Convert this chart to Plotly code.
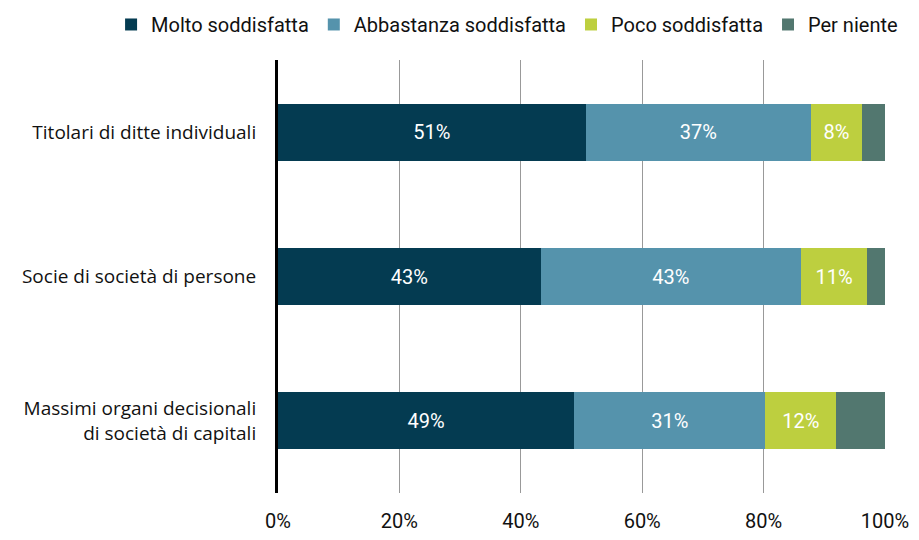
import plotly.graph_objects as go

categories = ["Titolari di ditte individuali", "Socie di società di persone",
              "Massimi organi decisionali<br>di società di capitali"]
series_names = ["Molto soddisfatta", "Abbastanza soddisfatta", "Poco soddisfatta", "Per niente"]
molto = [50.7, 43.3, 48.8]
abbastanza = [37.1, 42.8, 31.5]
poco = [8.4, 11.0, 11.7]
per_niente = [3.8, 2.9, 8.0]
labels_molto = ["51%", "43%", "49%"]
labels_abbastanza = ["37%", "43%", "31%"]
labels_poco = ["8%", "11%", "12%"]
colors = ["#043b51", "#5593ac", "#bdcf3f", "#52776f"]

narrow = "Roboto"
regular = "Open Sans, Noto Sans, sans-serif"

fig = go.Figure()
values = [molto, abbastanza, poco, per_niente]
texts = [labels_molto, labels_abbastanza, labels_poco, None]
for name, vals, col, txt in zip(series_names, values, colors, texts):
    fig.add_trace(go.Bar(
        y=categories, x=vals, name=name, orientation="h",
        marker=dict(color=col, line=dict(width=0)),
        text=txt, textposition="inside" if txt else "none",
        insidetextanchor="middle",
        textfont=dict(color="white", size=20, family=narrow),
        hoverinfo="x+name",
    ))

# the page places the figure 8px in from the top-left corner; margins compensate
fig.update_layout(
    barmode="stack", bargap=0.605,
    width=919, height=540,
    margin=dict(l=270, r=42, t=52, b=55, autoexpand=False),
    paper_bgcolor="white", plot_bgcolor="white",
    legend=dict(orientation="h", x=-0.275, xanchor="left", y=1.037, yanchor="bottom",
                font=dict(size=20, family=narrow, color="#111"),
                itemwidth=30, traceorder="normal", tracegroupgap=0),
    xaxis=dict(range=[0, 100], tickvals=[0, 20, 40, 60, 80, 100],
               ticktext=["0%", "20%", "40%", "60%", "80%", "100%"],
               showgrid=True, gridcolor="#999", gridwidth=1,
               zeroline=False, showline=False,
               tickfont=dict(size=20, family=narrow, color="#111"),
               ticklabelstandoff=14, fixedrange=True),
    yaxis=dict(categoryorder="array", categoryarray=categories[::-1],
               showline=True, linecolor="black", linewidth=3,
               tickfont=dict(size=19, family=regular, color="#111"),
               ticks="", ticklabelstandoff=15, fixedrange=True),
)

fig.write_html("out.html")
